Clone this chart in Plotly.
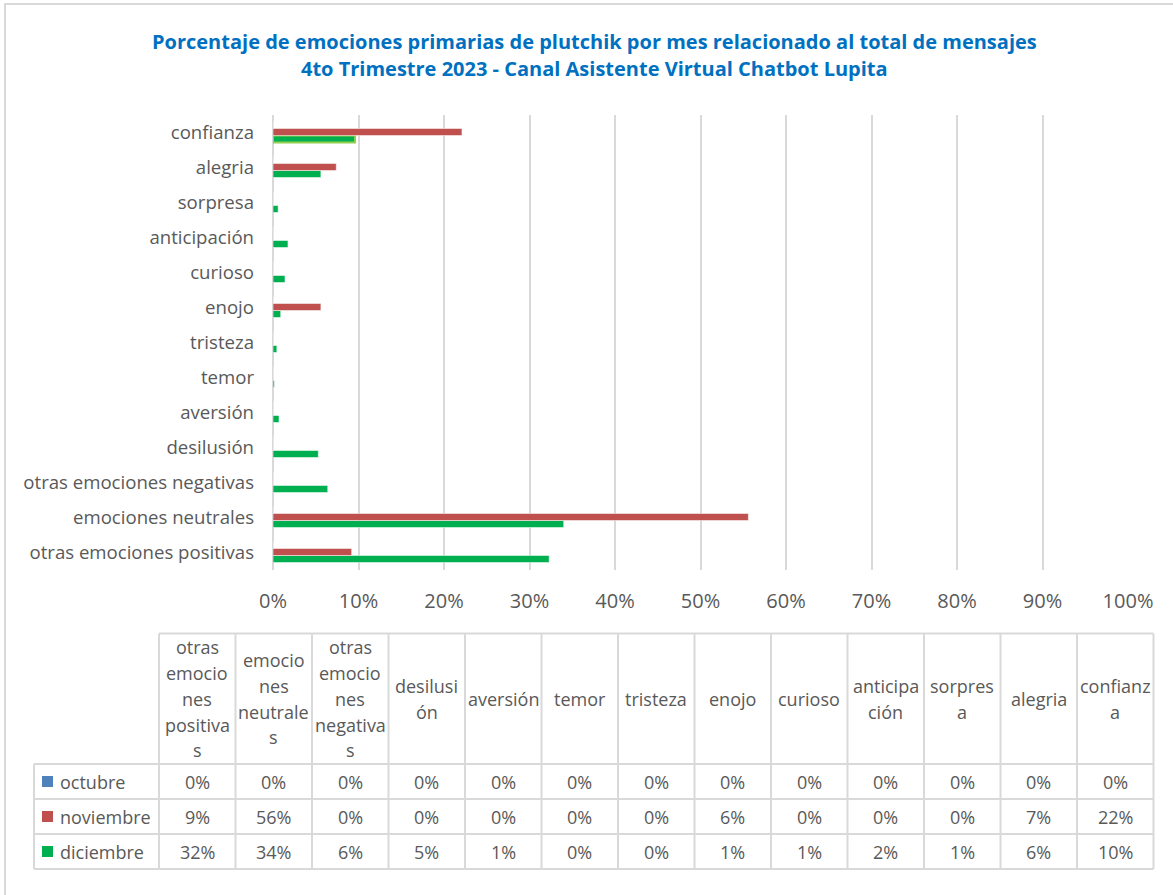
import plotly.graph_objects as go

# data (table order, bottom -> top in the chart)
categorias = ["otras emociones positivas", "emociones neutrales", "otras emociones negativas",
              "desilusión", "aversión", "temor", "tristeza", "enojo", "curioso",
              "anticipación", "sorpresa", "alegria", "confianza"]
encabezados = ["otras<br>emocio<br>nes<br>positiva<br>s", "emocio<br>nes<br>neutrale<br>s",
               "otras<br>emocio<br>nes<br>negativa<br>s", "desilusi<br>ón", "aversión", "temor",
               "tristeza", "enojo", "curioso", "anticipa<br>ción", "sorpres<br>a", "alegria",
               "confianz<br>a"]
octubre = [0, 0, 0, 0, 0, 0, 0, 0, 0, 0, 0, 0, 0]
noviembre = [9.2, 55.6, 0, 0, 0, 0, 0, 5.6, 0, 0, 0, 7.4, 22.1]
diciembre = [32.3, 34.0, 6.4, 5.3, 0.7, 0.15, 0.45, 0.9, 1.4, 1.75, 0.6, 5.6, 9.6]
ticks = [0, 10, 20, 30, 40, 50, 60, 70, 80, 90, 100]
titulo = ["Porcentaje de emociones primarias de plutchik por mes relacionado al total de mensajes",
          "4to Trimestre 2023 - Canal Asistente Virtual Chatbot Lupita"]

W, H = 1173, 895
FONT = "Open Sans"
GRAY = "#595959"
LINE = "#d9d9d9"
series = [("octubre", octubre, "#4F81BD"),
          ("noviembre", noviembre, "#C0504D"),
          ("diciembre", diciembre, "#00B050")]


def px(x):
    # screen pixel -> paper coordinate
    return x / W


def py(y):
    return 1 - y / H


fig = go.Figure()

# reversed so that noviembre sits above diciembre inside each group
for name, vals, color in reversed(series):
    edge = ["#92D050" if (name == "diciembre" and c == "confianza") else "rgba(255,255,255,0.5)"
            for c in categorias]
    widths = [2 if (name == "diciembre" and c == "confianza") else 1 for c in categorias]
    fig.add_trace(go.Bar(
        y=categorias, x=vals, name=name, orientation="h",
        marker=dict(color=color, line=dict(color=edge, width=widths)),
        showlegend=False,
    ))

fig.update_layout(
    width=W, height=H,
    margin=dict(l=0, r=0, t=0, b=0),
    paper_bgcolor="white", plot_bgcolor="white",
    barmode="group", bargap=0.4, bargroupgap=0,
    font=dict(family=FONT, color=GRAY),
    xaxis=dict(domain=[px(273), px(1128)], range=[0, 100], tickvals=ticks,
               ticktext=[f"{t}%" for t in ticks], showgrid=True, gridcolor=LINE, gridwidth=2,
               zeroline=True, zerolinecolor=LINE, zerolinewidth=2, showline=False,
               automargin=False, tickfont=dict(size=20, color=GRAY), ticklabelstandoff=17,
               fixedrange=True),
    yaxis=dict(domain=[py(569.5), py(114.5)], showgrid=False, showline=False, zeroline=False,
               automargin=False, tickfont=dict(size=18.6, color=GRAY), ticklabelstandoff=18,
               fixedrange=True),
)

shapes = []
ann = []

# outer frame
shapes.append(dict(type="rect", xref="paper", yref="paper", x0=px(5), x1=px(1190),
                   y0=py(910), y1=py(4), line=dict(color=LINE, width=2)))

# title
for i, line in enumerate(titulo):
    ann.append(dict(xref="paper", yref="paper", x=px(594), y=py(42 + 27 * i), text=f"<b>{line}</b>",
                    showarrow=False, xanchor="center", yanchor="middle",
                    font=dict(family=FONT, size=20, color="#0070C0")))

# data table
x0, cw = 159, 76.5
top, hdr_bot, rh = 633.5, 764, 35
ncol = len(categorias)
xr = x0 + cw * ncol
bottom = hdr_bot + rh * len(series)
line = dict(color=LINE, width=2)
shapes.append(dict(type="line", xref="paper", yref="paper", x0=px(x0), x1=px(xr),
                   y0=py(top), y1=py(top), line=line))
for r in range(len(series) + 1):
    y = hdr_bot + rh * r
    shapes.append(dict(type="line", xref="paper", yref="paper", x0=px(34), x1=px(xr),
                       y0=py(y), y1=py(y), line=line))
shapes.append(dict(type="line", xref="paper", yref="paper", x0=px(34), x1=px(34),
                   y0=py(hdr_bot), y1=py(bottom), line=line))
for k in range(ncol + 1):
    x = x0 + cw * k
    shapes.append(dict(type="line", xref="paper", yref="paper", x0=px(x), x1=px(x),
                       y0=py(top), y1=py(bottom), line=line))

hdr_mid = (top + hdr_bot) / 2
for k, h in enumerate(encabezados):
    parts = h.split("<br>")
    xc = x0 + cw * (k + 0.5)
    for j, p in enumerate(parts):
        yc = hdr_mid + 25.8 * (j - (len(parts) - 1) / 2)
        ann.append(dict(xref="paper", yref="paper", x=px(xc), y=py(yc), text=p, showarrow=False,
                        xanchor="center", yanchor="middle", font=dict(size=18, color=GRAY)))

for r, (name, vals, color) in enumerate(series):
    yc = hdr_bot + rh * (r + 0.5)
    shapes.append(dict(type="rect", xref="paper", yref="paper", x0=px(42), x1=px(53),
                       y0=py(yc + 5.5), y1=py(yc - 5.5), fillcolor=color, line=dict(width=0)))
    ann.append(dict(xref="paper", yref="paper", x=px(58), y=py(yc), text=name, showarrow=False,
                    xanchor="left", yanchor="middle", font=dict(size=18, color=GRAY)))
    for k, v in enumerate(vals):
        xc = x0 + cw * (k + 0.5)
        ann.append(dict(xref="paper", yref="paper", x=px(xc), y=py(yc), text=f"{v:.0f}%",
                        showarrow=False, xanchor="center", yanchor="middle",
                        font=dict(size=18, color=GRAY)))

fig.update_layout(shapes=shapes, annotations=ann)
# drop the default 8px body margin so the figure fills the window
fig.write_html("out.html", config={"displayModeBar": False},
               post_script="document.body.style.margin='0';")
